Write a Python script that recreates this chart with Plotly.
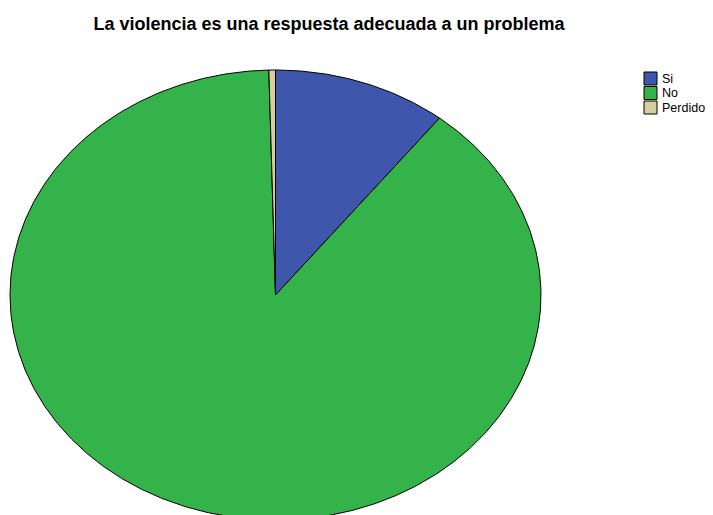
import numpy as np
import plotly.graph_objects as go

title = "La violencia es una respuesta adecuada a un problema"
categories = ["Si", "No", "Perdido"]
values = [10.6, 89.0, 0.4]
colors = ["#3e56ab", "#33b34a", "#d6cf9a"]

# geometry of the elliptical pie (pixel space)
W, H = 713, 515
cx, cy, rx, ry = 275.5, 295, 265.5, 225

fig = go.Figure()
total = sum(values)
start = 0.0
for cat, val, col in zip(categories, values, colors):
    frac = val / total
    t = np.linspace(start, start + frac, max(3, int(frac * 720)))
    t = t * 2 * np.pi
    xs = np.concatenate([[cx], cx + rx * np.sin(t), [cx]])
    ys = np.concatenate([[cy], cy - ry * np.cos(t), [cy]])
    fig.add_trace(go.Scatter(x=xs, y=ys, mode="lines", fill="toself",
                             fillcolor=col, line=dict(color="black", width=1),
                             name=cat, showlegend=False, hoverinfo="name"))
    start += frac

# manual legend
shapes = []
annotations = []
for i, (cat, col) in enumerate(zip(categories, colors)):
    top = 72 + i * 14.5
    shapes.append(dict(type="rect", xref="x", yref="y", x0=644, x1=657,
                       y0=top, y1=top + 13, fillcolor=col,
                       line=dict(color="black", width=1)))
    annotations.append(dict(x=661, y=top + 6.5, xref="x", yref="y", text=cat,
                            showarrow=False, xanchor="left", yanchor="middle",
                            borderpad=0,
                            font=dict(family="Liberation Sans, Arial", size=12.5, color="black")))

fig.update_layout(
    width=W, height=H,
    margin=dict(l=0, r=0, t=0, b=0),
    paper_bgcolor="white", plot_bgcolor="white",
    xaxis=dict(range=[0, W], visible=False, fixedrange=True),
    yaxis=dict(range=[H, 0], visible=False, fixedrange=True),
    title=dict(text="<b>" + title + "</b>", x=329 / W, xanchor="center",
               y=1 - 24 / H, yanchor="middle",
               font=dict(family="Liberation Sans, Arial", size=18, color="black")),
    shapes=shapes, annotations=annotations,
    showlegend=False,
)

fig.write_html("out.html", config={"displayModeBar": False},
               post_script="document.body.style.margin='0';document.body.style.overflow='hidden';")
